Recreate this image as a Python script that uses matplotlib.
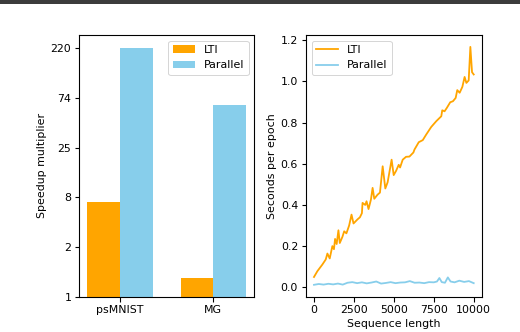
import numpy as np
import matplotlib
matplotlib.use("Agg")
import matplotlib.pyplot as plt
from matplotlib.patches import Rectangle

# ---- data ----
tasks = ["psMNIST", "MG"]
lti_speedup = [7.8, 1.49]
parallel_speedup = [220, 64]

lti_x = [0, 210, 520, 735, 840, 985, 1150, 1250, 1320, 1420, 1530, 1615, 1780, 1890, 2030,
         2200, 2350, 2475, 2725, 2875, 3000, 3040, 3210, 3290, 3415, 3565, 3670, 3775, 3980,
         4130, 4300, 4465, 4610, 4860, 4990, 5135, 5305, 5390, 5555, 5765, 5975, 6225, 6290,
         6560, 6810, 7025, 7340, 7655, 7970, 8030, 8175, 8320, 8530, 8700, 8870, 8970, 9120,
         9290, 9430, 9540, 9685, 9790, 9895, 10000]
lti_y = [0.05, 0.078, 0.11, 0.135, 0.164, 0.14, 0.20, 0.185, 0.235, 0.21, 0.277, 0.215, 0.245, 0.272, 0.262,
         0.30, 0.353, 0.31, 0.33, 0.34, 0.36, 0.41, 0.40, 0.418, 0.38, 0.426, 0.483, 0.43, 0.45,
         0.46, 0.588, 0.48, 0.51, 0.62, 0.545, 0.565, 0.595, 0.582, 0.62, 0.634, 0.635, 0.655, 0.669,
         0.705, 0.715, 0.742, 0.779, 0.807, 0.831, 0.86, 0.855, 0.872, 0.899, 0.904, 0.92, 0.958, 0.945,
         0.974, 1.022, 0.993, 1.005, 1.168, 1.045, 1.034]

par_x = [0, 300, 600, 900, 1200, 1500, 1800, 2100, 2400, 2700, 3000, 3300, 3600, 3900, 4200,
         4500, 4800, 5100, 5400, 5700, 6000, 6300, 6600, 6900, 7200, 7500, 7700, 7850, 8000,
         8200, 8380, 8550, 8800, 9100, 9400, 9700, 10000]
par_y = [0.012, 0.016, 0.013, 0.017, 0.014, 0.018, 0.013, 0.022, 0.025, 0.020, 0.024, 0.019,
         0.023, 0.028, 0.018, 0.021, 0.025, 0.020, 0.023, 0.024, 0.030, 0.022, 0.023, 0.020,
         0.025, 0.024, 0.028, 0.045, 0.025, 0.022, 0.048, 0.028, 0.024, 0.032, 0.026, 0.030, 0.020]

ORANGE = "orange"
BLUE = "skyblue"

plt.rcParams["font.size"] = 11
plt.rcParams["axes.linewidth"] = 1.1
plt.rcParams["xtick.major.width"] = 1.1
plt.rcParams["ytick.major.width"] = 1.1
plt.rcParams["xtick.major.size"] = 4.5
plt.rcParams["ytick.major.size"] = 4.5

fig = plt.figure(figsize=(520 / 72, 332 / 72), dpi=72)
fig.patch.set_facecolor("white")

# top dark band
fig.add_artist(Rectangle((0, 1 - 3.5 / 332), 1, 3.5 / 332, transform=fig.transFigure,
                         facecolor="#3c3c3c", edgecolor="none"))

# ---- left: bar chart (log scale) ----
ax1 = fig.add_axes([79.3 / 520, (332 - 296.7) / 332, 174.7 / 520, 261.7 / 332])
x = np.arange(len(tasks))
w = 0.35
ax1.bar(x - w / 2, lti_speedup, w, color=ORANGE, label="LTI")
ax1.bar(x + w / 2, parallel_speedup, w, color=BLUE, label="Parallel")
ax1.set_yscale("log")
ax1.set_ylim(1, 295)
ticks = np.exp(np.linspace(0, np.log(max(parallel_speedup)), 6))
ax1.set_yticks(ticks)
ax1.set_yticklabels([str(int(t)) for t in ticks])
ax1.yaxis.set_minor_locator(matplotlib.ticker.NullLocator())
ax1.set_xticks(x)
ax1.set_xticklabels(tasks)
ax1.set_ylabel("Speedup multiplier")
ax1.legend(loc="upper right")

# ---- right: line chart ----
ax2 = fig.add_axes([306 / 520, (332 - 296.7) / 332, 175.7 / 520, 261.7 / 332])
ax2.plot(lti_x, lti_y, color=ORANGE, label="LTI", lw=1.8)
ax2.plot(par_x, par_y, color=BLUE, label="Parallel", lw=1.8)
ax2.set_xlabel("Sequence length")
ax2.set_ylabel("Seconds per epoch")
ax2.set_xticks([0, 2500, 5000, 7500, 10000])
ax2.set_yticks([0.0, 0.2, 0.4, 0.6, 0.8, 1.0, 1.2])
ax2.legend(loc="upper left")

fig.savefig("out.png", dpi=72)
